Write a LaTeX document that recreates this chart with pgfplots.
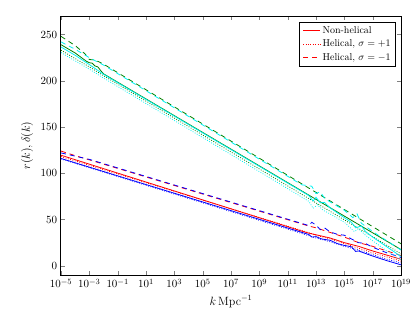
\documentclass[border=0pt,11pt]{standalone}
\usepackage{pgfplots}
\pgfplotsset{compat=1.18}
\definecolor{mgreen}{rgb}{0,0.5,0}
\definecolor{mcyan}{rgb}{0,0.95,0.95}
\tikzset{
  mdash/.style={dash pattern=on 5pt off 4pt},
  mdot/.style={dash pattern=on 0.8pt off 1.6pt},
}
\begin{document}
\begin{tikzpicture}
\begin{axis}[
    name=ax,
    scale only axis,
    width=340pt, height=259pt,
    xmode=log,
    xmin=1e-5, xmax=1e19,
    ymin=-10, ymax=270,
    xtick={1e-5,1e-3,1e-1,1e1,1e3,1e5,1e7,1e9,1e11,1e13,1e15,1e17,1e19},
    minor xtick={},
    ytick={0,50,100,150,200,250},
    axis line style={line width=1pt},
    xlabel={$k\,\mathrm{Mpc}^{-1}$},
    ylabel={$r(k),\delta(k)$},
    label style={font=\large},
    every axis plot/.append style={line width=0.8pt},
    legend cell align=left,
    legend style={at={(0.985,0.977)}, anchor=north east, font=\small,
        draw=black, line width=0.6pt, row sep=1pt},
]
% red, with legend
\addplot[red] coordinates {
 (1e-5,119.5) (1e12,37.4) (3.16e12,35.2) (1e13,33.5) (1e14,30) (1e15,25)
 (1e16,21) (1e17,16) (1e18,11.5) (1e19,7)
};
\addlegendentry{Non-helical}
\addplot[red, mdot] coordinates {
 (1e-5,118) (3.16e12,35.75) (1e13,33) (1e14,29) (1e15,24) (1e16,19)
 (1e17,14) (1e18,9.5) (1e19,5)
};
\addlegendentry{Helical, $\sigma=+1$}
\addplot[red, mdash] coordinates {
 (1e-5,124) (1e-4,119) (1e-3,114.5) (3.16e12,42.9) (1e13,41) (3.16e13,38.5)
 (1e14,36) (1e15,31) (1e16,25) (1e17,21) (1e18,16) (1e19,11)
};
\addlegendentry{Helical, $\sigma=-1$}
% blue
\addplot[blue, forget plot] coordinates {
 (1e-5,116) (3.16e12,33.75) (5.01e12,31) (1e13,31.5) (2.51e13,29) (1e14,27.5)
 (3.16e14,24) (1e15,22) (3.16e15,20.5) (6.31e15,15.5) (1e16,16) (1e17,10.5)
 (1e18,5.5) (1e19,1)
};
\addplot[blue, mdot, forget plot] coordinates {
 (1e-5,115.5) (3.16e12,32.5) (1e13,30) (1e14,26) (1e15,21) (1e16,17)
 (1e17,12) (1e18,7) (1e19,3)
};
\addplot[blue, mdash, forget plot] coordinates {
 (1e-5,122) (1e-4,118.5) (1e-3,115) (3.16e12,43.4) (5.01e12,47) (1e13,44)
 (2.0e13,39) (3.98e13,41) (1e14,36.5) (3.16e14,34) (1e15,33) (3.16e15,29)
 (1e16,25) (3.16e16,24) (1e17,20) (1e18,14) (1e19,9)
};
% green
\addplot[mgreen, forget plot] coordinates {
 (1e-5,239) (1e-4,230) (6.31e-4,221) (1e-3,219.5) (1.58e-3,219) (2.51e-3,216)
 (3.98e-3,215) (6.31e-3,211) (1e-2,207.5) (1e19,17.5)
};
\addplot[mgreen, mdot, forget plot] coordinates {
 (1e-5,233) (1e-4,224) (1e-3,215) (1e-2,205.5) (1e19,13)
};
\addplot[mgreen, mdash, forget plot] coordinates {
 (1e-5,248) (1e-4,238) (5.01e-4,229) (1e-3,223) (2.0e-3,222.5) (3.98e-3,221)
 (1e-2,218) (1e19,23.8)
};
% cyan
\addplot[mcyan, forget plot] coordinates {
 (1e-5,236.5) (1e-4,227.5) (1e-3,217.5) (1e-2,207) (3.16e12,75.8) (6.31e12,70)
 (1e13,74) (2.0e13,68) (3.98e13,68.5) (1e14,62.5) (1e15,52) (3.16e15,47)
 (6.31e15,41) (1.58e16,43) (3.16e16,37) (1e17,31) (1e18,20.5) (1e19,10)
};
\addplot[mcyan, mdot, forget plot] coordinates {
 (1e-5,230.5) (1e-4,221.5) (1e-3,212.5) (1e-2,203) (3.16e12,69.6) (6.31e12,62)
 (1.26e13,66) (3.16e13,60) (1e14,56) (1e15,47) (5.01e15,37) (1e16,40)
 (3.16e16,33) (1e17,27) (1e18,16) (1e19,6)
};
\addplot[mcyan, mdash, forget plot] coordinates {
 (1e-5,242) (1e-4,234) (1e-3,225) (3.16e-3,221) (1e-2,217) (1e12,87.5)
 (5.01e12,86) (1e13,78) (2.0e13,80) (3.98e13,73) (1e14,69) (1e15,60)
 (3.98e15,52) (7.94e15,56) (1.58e16,46) (1e17,37) (1e18,27) (1e19,17)
};
\end{axis}
\pgfresetboundingbox
\path[use as bounding box] ([shift={(-61pt,-49pt)}]ax.south west)
    rectangle ([shift={(10pt,16pt)}]ax.north east);
\end{tikzpicture}
\end{document}
